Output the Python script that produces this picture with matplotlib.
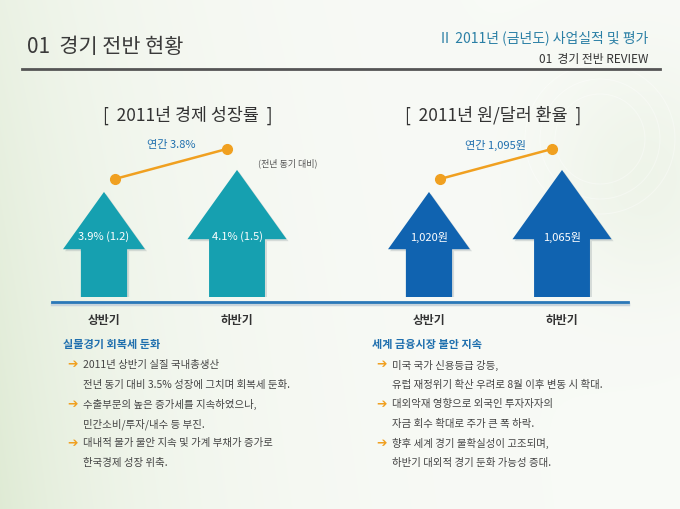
import numpy as np
import matplotlib.pyplot as plt
from matplotlib.patches import Polygon

plt.rcParams["font.family"] = ["Noto Sans CJK KR", "DejaVu Sans"]

# ====== Dados ================================================================

periods = ["상반기", "하반기"]
growth = [3.9, 4.1]            # 경제 성장률 (%)
growth_prev = [1.2, 1.5]       # 전기 대비
growth_annual = 3.8
fx_rate = [1020, 1065]         # 원/달러 환율
fx_annual = 1095

left_head = "실물경기 회복세 둔화"
left_lines = [
    (True, "2011년 상반기 실질 국내총생산"),
    (False, "전년 동기 대비 3.5% 성장에 그치며 회복세 둔화."),
    (True, "수출부문의 높은 증가세를 지속하였으나,"),
    (False, "민간소비/투자/내수 등 부진."),
    (True, "대내적 물가 불안 지속 및 가계 부채가 증가로"),
    (False, "한국경제 성장 위축."),
]
right_head = "세계 금융시장 불안 지속"
right_lines = [
    (True, "미국 국가 신용등급 강등,"),
    (False, "유럽 재정위기 확산 우려로 8월 이후 변동 시 확대."),
    (True, "대외악재 영향으로 외국인 투자자자의"),
    (False, "자금 회수 확대로 주가 큰 폭 하락."),
    (True, "향후 세계 경기 불확실성이 고조되며,"),
    (False, "하반기 대외적 경기 둔화 가능성 증대."),
]

# ====== Estilo ===============================================================

W, H = 680, 510
TEAL = "#16a0b0"
BLUE = "#1063b0"
ORANGE = "#f0a020"
TXT_BLUE = "#1f6fae"
XLIM = (-0.481, 1.699)
DOT_DX = [11, -10]
DOT_DY = [13, 21]

fig = plt.figure(figsize=(W / 100, H / 100), dpi=100)

# fundo com gradiente
bg = fig.add_axes([0, 0, 1, 1])
xx, yy = np.meshgrid(np.linspace(0, 1, W), np.linspace(0, 1, H))
tint = 0.8 * np.exp(-xx / 0.22) * (0.55 + 0.45 * yy) + 0.3 * np.exp(-((xx - 0.95) ** 2 / 0.02 + (yy - 0.35) ** 2 / 0.05))
white = np.array([0.975, 0.982, 0.968])
green = np.array([0.85, 0.905, 0.80])
img = white[None, None, :] * (1 - tint[..., None]) + green[None, None, :] * tint[..., None]
bg.imshow(np.clip(img, 0, 1), extent=(0, W, H, 0), aspect="auto")
for r in [45, 60, 75]:
    bg.add_patch(plt.Circle((600, 140), r, fill=False, ec="white", lw=0.8, alpha=0.35))
bg.set_xlim(0, W)
bg.set_ylim(H, 0)
bg.axis("off")

# cabeçalho
bg.text(27, 47, "01  경기 전반 현황", fontsize=15, color="#3a3a3a", va="center")
bg.text(648, 38, "II  2011년 (금년도) 사업실적 및 평가", fontsize=10, color="#2a7fa5",
        ha="right", va="center")
bg.text(648, 60, "01  경기 전반 REVIEW", fontsize=8.5, color="#333333", ha="right", va="center")
bg.plot([22, 660], [70, 70], color="#555555", lw=2)

# títulos dos gráficos
bg.text(188, 115, "[  2011년 경제 성장률  ]", fontsize=12.5, color="#333333", ha="center", va="center")
bg.text(493, 115, "[  2011년 원/달러 환율  ]", fontsize=12.5, color="#333333", ha="center", va="center")
bg.text(288, 163, "(전년 동기 대비)", fontsize=6.5, color="#555555", ha="center", va="center")

# linha de base
bg.plot([52, 628], [305, 305], color="#c8d4dc", lw=2.5)
bg.plot([52, 628], [303, 303], color="#2a78b8", lw=2)


def draw_chart(left_px, values, labels, color, ylim, annual_text):
    ax = fig.add_axes([left_px / W, (H - 298) / H, 290 / W, 168 / H])
    ax.set_xlim(XLIM)
    ax.set_ylim(ylim)
    ax.axis("off")
    ppx = 290 / (XLIM[1] - XLIM[0])
    ppy = 168 / (ylim[1] - ylim[0])
    base = ylim[0]
    xs, ys = [], []
    for i, v in enumerate(values):
        hpx = (v - base) * ppy
        hw = 0.39 * hpx / ppx
        sw = 0.22 * hpx / ppx
        neck = v - 0.545 * hpx / ppy
        verts = [(i - sw, base), (i - sw, neck), (i - hw, neck), (i, v),
                 (i + hw, neck), (i + sw, neck), (i + sw, base)]
        sh = [(x + 2 / ppx, y - 2 / ppy) for x, y in verts]
        ax.add_patch(Polygon(sh, closed=True, fc="#9aa5a8", ec="none", alpha=0.35))
        ax.add_patch(Polygon(verts, closed=True, fc=color, ec="none"))
        ax.text(i, base + 61 / ppy, labels[i], fontsize=8, color="white", ha="center", va="center")
        ax.text(i, base - 23 / ppy, periods[i], fontsize=8.5, color="#333333", ha="center",
                va="center", fontweight="bold", clip_on=False)
        xs.append(i + DOT_DX[i] / ppx)
        ys.append(v + DOT_DY[i] / ppy)
    ax.plot(xs, ys, "-o", color=ORANGE, lw=1.8, ms=7, clip_on=False)
    ax.text(np.mean(xs), base + 153 / ppy, annual_text, fontsize=8, color=TXT_BLUE,
            ha="center", va="center", clip_on=False)


draw_chart(40, growth, [f"{g}% ({p})" for g, p in zip(growth, growth_prev)], TEAL,
           (2.945, 4.472), f"연간 {growth_annual}%")
draw_chart(365, fx_rate, [f"{v:,}원" for v in fx_rate], BLUE,
           (805.2, 1148.8), f"연간 {fx_annual:,}원")


# textos explicativos
def draw_notes(x0, head, lines):
    bg.text(x0, 345, head, fontsize=8, color=TXT_BLUE, fontweight="bold", va="center")
    for k, (bullet, line) in enumerate(lines):
        y = 365 + k * 19.6
        if bullet:
            bg.text(x0 + 4, y, "➔", fontsize=9, color=ORANGE, va="center", family=["DejaVu Sans"])
        bg.text(x0 + 20, y, line, fontsize=7.5, color="#444444", va="center")


draw_notes(63, left_head, left_lines)
draw_notes(372, right_head, right_lines)

plt.savefig("out.png", dpi=100)
plt.close()
